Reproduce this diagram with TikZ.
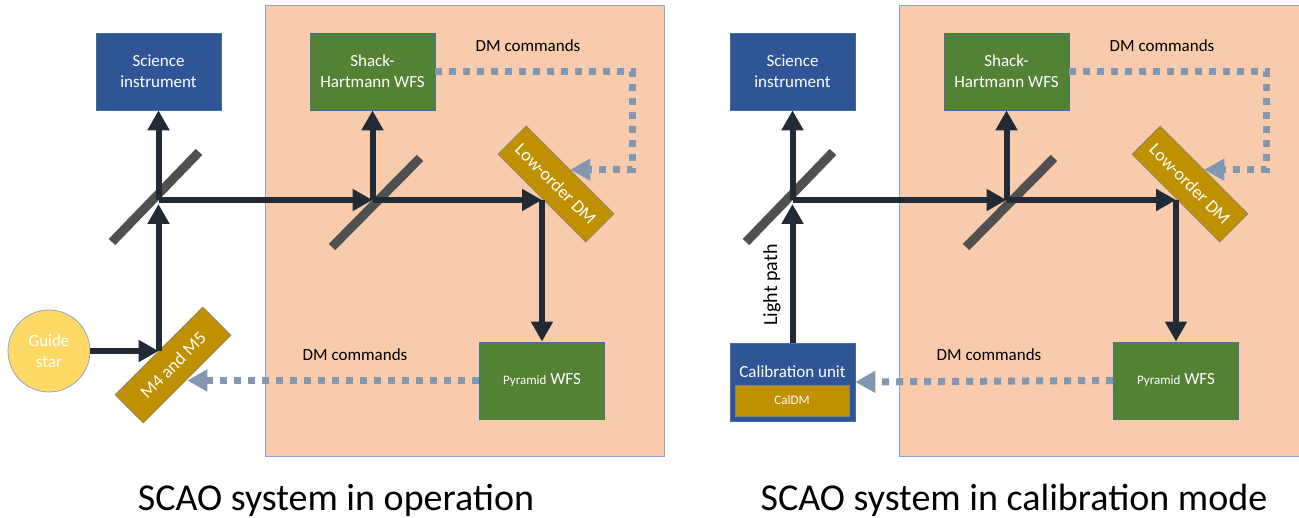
\documentclass[tikz,border=0pt]{standalone}
\usepackage{fontspec}
\setmainfont{Carlito}
\usetikzlibrary{arrows.meta}
\definecolor{peach}{HTML}{F8CBAD}
\definecolor{peachline}{HTML}{8EA2CF}
\definecolor{boxline}{HTML}{41719C}
\definecolor{sciblue}{HTML}{2F5597}
\definecolor{wfsgreen}{HTML}{548235}
\definecolor{dmgold}{HTML}{BF9000}
\definecolor{starfill}{HTML}{FFD966}
\definecolor{beamcol}{HTML}{222A35}
\definecolor{splitcol}{HTML}{505050}
\definecolor{cmdcol}{HTML}{8497B0}
\newcommand{\boxfont}{\fontsize{17}{21}\selectfont}
\newcommand{\smallboxfont}{\fontsize{13}{15}\selectfont}
\tikzset{
  bench/.style={fill=peach, draw=peachline, line width=1pt},
  instbox/.style={fill=sciblue, draw=boxline, line width=0.8pt, text=white, font=\boxfont,
    align=center, inner sep=0pt, minimum width=125pt, minimum height=77pt},
  wfsbox/.style={instbox, fill=wfsgreen},
  mirrorbox/.style={fill=dmgold, draw=gray, line width=0.6pt, text=white, inner sep=0pt,
    font=\fontsize{18}{22}\selectfont, minimum width=124pt, minimum height=40pt},
  starnode/.style={circle, fill=starfill, draw=peachline, line width=0.8pt, text=white,
    font=\boxfont, align=center, minimum size=82pt, inner sep=0pt},
  beam/.style={draw=beamcol, line width=6pt, -{Triangle[length=20pt,width=21pt]}},
  splitter/.style={draw=splitcol, line width=9pt},
  cmd/.style={draw=cmdcol, line width=7pt, dash pattern=on 7pt off 7pt,
    -{Triangle[length=20pt,width=21pt]}},
  cmdtext/.style={font=\boxfont, anchor=base},
  titletext/.style={font=\fontsize{38}{44}\selectfont, anchor=base}
}
\begin{document}
\begin{tikzpicture}[x=1pt, y=-1pt, line join=miter]
\useasboundingbox (0,0) rectangle (1299,518);
% the two benches
\draw[bench] (265,6) rectangle (664,457);
\draw[bench] (899,6) rectangle (1320,457);

% operation only
\node[starnode] (star) at (49,351) {Guide\\star};
\node[mirrorbox, rotate=45] (m45) at (173,365) {M4 and M5};
\coordinate (m45hit) at (158.5,351);

% calibration only
\node[instbox, minimum height=78pt] (cal) at (792.5,382) {};
\node[text=white, font=\boxfont, anchor=base] (caltext) at (792.5,378) {Calibration unit};
\node[mirrorbox, font=\smallboxfont, minimum width=114pt, minimum height=31pt] (caldm) at (792,400.5) {CalDM};
\node[rotate=90, font=\fontsize{20}{24}\selectfont] (lightpath) at (772,285) {Light path};

% common part of both benches
\foreach \p/\dx in {L/0, R/634}{
  \begin{scope}[xshift=\dx pt]
    \draw[splitter] (112,242) -- (199,152);
    \draw[splitter] (332,247) -- (420,158);
    \node[instbox] (\p-sci) at (158.5,71.5) {Science\\instrument};
    \node[wfsbox] (\p-sh) at (372.5,71.5) {Shack-\\Hartmann WFS};
    \node[wfsbox] (\p-pyr) at (542,380.5) {{\smallboxfont Pyramid} WFS};
    \node[mirrorbox, rotate=-45] (\p-lodm) at (556,184) {Low-order DM};
    \node[cmdtext] (\p-cmdtop) at (528,52) {DM commands};
    \node[cmdtext] (\p-cmdlow) at (355,361) {DM commands};
    \coordinate (\p-bs1) at (158.5,200);
    \coordinate (\p-bs2) at (372.5,200);
    \coordinate (\p-fold) at (542,200);
    \draw[beam] (\p-bs1) -- (\p-sci.south);
    \draw[beam] (\p-bs1) -- (\p-bs2);
    \draw[beam] (\p-bs2) -- (\p-sh.south);
    \draw[beam] (\p-bs2) -- (\p-fold);
    \draw[beam] (\p-fold) -- (\p-pyr.north);
    \draw[cmd] (\p-sh.east) -- ++(197,0) |- (\p-lodm.north);
  \end{scope}
}

\draw[beam] (star) -- (m45hit);
\draw[beam, shorten >=4pt] (m45hit) -- (L-bs1);
\draw[cmd] (L-pyr.west) -- (L-pyr.west -| m45.south);
\draw[beam, shorten >=4pt] (cal.north) -- (R-bs1);
\draw[cmd] (R-pyr.west) -- (cal.east);

\node[titletext] (optitle) at (336,510) {SCAO system in operation};
\node[titletext] (caltitle) at (1014,510) {SCAO system in calibration mode};
\end{tikzpicture}
\end{document}
